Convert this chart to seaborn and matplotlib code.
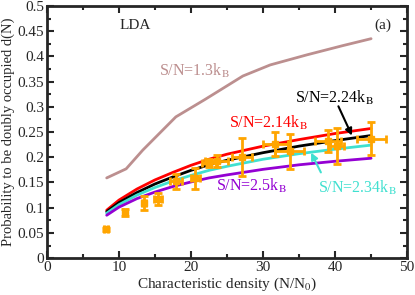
import numpy as np
import pandas as pd
import seaborn as sns
from matplotlib import pyplot as plt
from matplotlib.ticker import MultipleLocator, FormatStrFormatter

# curves: d(N) vs characteristic density for several entropies
x_rosy = [8.3, 11.0, 13.3, 17.9, 22.0, 27.2, 31.0, 36.1, 41.0, 45.0]
y_rosy = [0.159, 0.177, 0.214, 0.280, 0.315, 0.361, 0.383, 0.403, 0.421, 0.435]

x_curve = [8.3, 10, 12.5, 15, 17.5, 20, 22.5, 25, 30, 35, 40, 45]
y_red = [0.095, 0.115, 0.137, 0.155, 0.170, 0.184, 0.196, 0.206, 0.222, 0.235, 0.247, 0.257]
y_black = [0.092, 0.110, 0.130, 0.147, 0.161, 0.174, 0.185, 0.194, 0.209, 0.222, 0.233, 0.243]
y_cyan = [0.089, 0.106, 0.125, 0.140, 0.153, 0.164, 0.174, 0.182, 0.196, 0.207, 0.216, 0.224]
y_purple = [0.085, 0.101, 0.118, 0.131, 0.142, 0.151, 0.159, 0.165, 0.176, 0.185, 0.192, 0.198]

# experimental points
x_exp = [8.2, 10.8, 13.5, 15.4, 17.9, 20.6, 22.5, 23.6, 27.1, 31.7, 33.7, 39.0, 40.3, 45.0]
y_exp = [0.057, 0.091, 0.110, 0.117, 0.152, 0.158, 0.188, 0.192, 0.200, 0.226, 0.212, 0.232, 0.222, 0.237]
xerr = [0.3, 0.3, 0.3, 0.6, 0.8, 0.6, 1.0, 1.6, 1.4, 1.7, 2.0, 1.8, 1.0, 2.0]
yerr = [0.003, 0.007, 0.014, 0.012, 0.015, 0.020, 0.008, 0.012, 0.038, 0.024, 0.035, 0.022, 0.035, 0.033]

sns.set_style("ticks")
plt.rcParams['font.family'] = ['Liberation Serif', 'DejaVu Serif']
plt.rcParams['mathtext.fontset'] = 'stix'

df = pd.DataFrame({
    'x': x_curve * 4,
    'y': y_red + y_black + y_cyan + y_purple,
    's': ['2.14'] * 12 + ['2.24'] * 12 + ['2.34'] * 12 + ['2.5'] * 12,
})
pal = {'2.14': '#ff0000', '2.24': '#000000', '2.34': '#40e0d0', '2.5': '#9400d3'}

fig = plt.figure(figsize=(4.15, 2.95), dpi=100)
ax = fig.add_axes([0.113, 0.125, 0.868, 0.855])

sns.lineplot(x=x_rosy, y=y_rosy, color='#bc8f8f', lw=2, ax=ax)
sns.lineplot(data=df, x='x', y='y', hue='s', palette=pal, lw=2, ax=ax, legend=False)
ax.errorbar(x_exp, y_exp, xerr=xerr, yerr=yerr, fmt='s', color='#ffa500', ms=4,
            elinewidth=2, capsize=3, capthick=2, zorder=5)

ax.set_xlim(0, 50)
ax.set_ylim(0, 0.5)
ax.xaxis.set_major_locator(MultipleLocator(10))
ax.xaxis.set_minor_locator(MultipleLocator(5))
ax.yaxis.set_major_locator(MultipleLocator(0.05))
ax.yaxis.set_minor_locator(MultipleLocator(0.025))
ax.yaxis.set_major_formatter(FormatStrFormatter('%g'))
ax.tick_params(which='both', direction='in', top=True, right=True, width=1.5, labelsize=11, pad=2)
ax.tick_params(which='major', length=5)
ax.tick_params(which='minor', length=3)
for s in ax.spines.values():
    s.set_linewidth(2)

ax.set_xlabel('Characteristic density (N/N$_0$)', fontsize=11, labelpad=1)
ax.set_ylabel('Probability to be doubly occupied d(N)', fontsize=10.5, labelpad=2)

ax.text(12.2, 0.462, 'LDA', fontsize=11, ha='center', va='center')
ax.text(46.7, 0.462, '(a)', fontsize=11, ha='center', va='center')
ax.text(20.5, 0.371, 'S/N=1.3k$_\\mathrm{B}$', color='#bc8f8f', fontsize=11.5, ha='center', va='center')
ax.text(39.9, 0.317, 'S/N=2.24k$_\\mathrm{B}$', color='black', fontsize=11.5, ha='center', va='center')
ax.text(30.8, 0.268, 'S/N=2.14k$_\\mathrm{B}$', color='#ff0000', fontsize=11.5, ha='center', va='center')
ax.text(28.4, 0.143, 'S/N=2.5k$_\\mathrm{B}$', color='#9400d3', fontsize=11.5, ha='center', va='center')
ax.text(43.1, 0.139, 'S/N=2.34k$_\\mathrm{B}$', color='#40e0d0', fontsize=11.5, ha='center', va='center')
ax.annotate('', xy=(42.5, 0.238), xytext=(40.3, 0.306),
            arrowprops=dict(arrowstyle='-|>', color='black', lw=1.5, mutation_scale=10))
ax.annotate('', xy=(36.5, 0.214), xytext=(38.2, 0.165),
            arrowprops=dict(arrowstyle='-|>', color='#40e0d0', lw=1.5, mutation_scale=10))

plt.savefig('out.png', dpi=100)
